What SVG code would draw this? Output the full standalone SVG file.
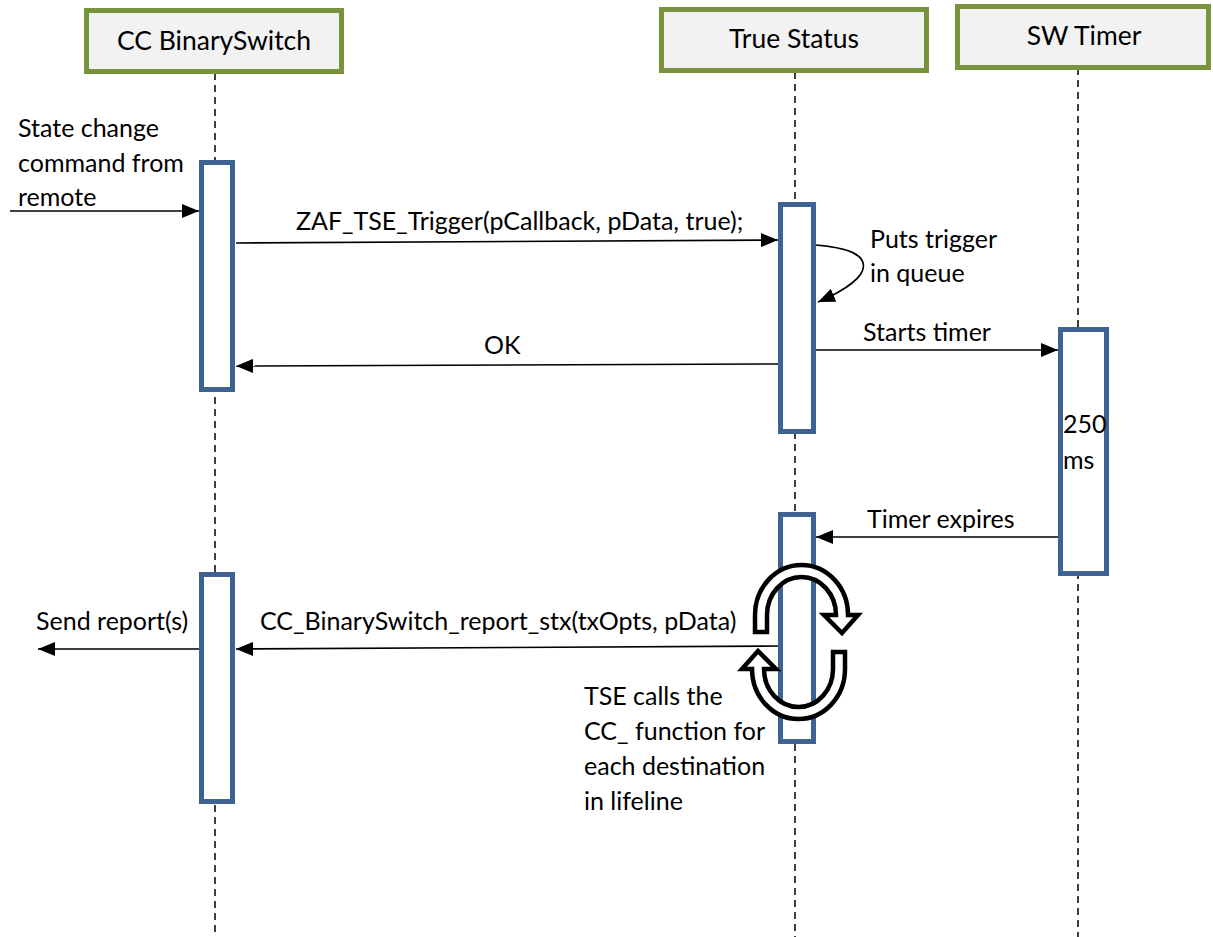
<svg xmlns="http://www.w3.org/2000/svg" width="1213" height="937" viewBox="0 0 1213 937">
  <defs>
    <style>
      .hdr { fill: #f2f2f2; stroke: #77933c; stroke-width: 5; }
      .life { stroke: #000; stroke-width: 1.5; stroke-dasharray: 7 5; fill: none; }
      .act { fill: #ffffff; stroke: #3e6392; stroke-width: 5; }
      .msg { stroke: #000; stroke-width: 1.6; fill: none; marker-end: url(#head); }
      .lbl { font-family: Lato, "Liberation Sans", sans-serif; font-size: 25px; fill: #000; }
      .htxt { font-family: Lato, "Liberation Sans", sans-serif; font-size: 26.5px; fill: #000; text-anchor: middle; }
      .loop { fill: #ffffff; stroke: #000; stroke-width: 4.5; stroke-linejoin: miter; }
    </style>
    <marker id="head" markerUnits="userSpaceOnUse" markerWidth="18" markerHeight="14" refX="17" refY="7" orient="auto">
      <path d="M0,0 L17,7 L0,14 Z" fill="#000"/>
    </marker>
    <!-- curved block arrow: arch with a left leg and a downward head on the right -->
    <path id="arch" d="M755,632 L755,615 A46.5,50 0 0 1 848,615 L858,615 L842,633 L824,615 L836,615 A34.5,38 0 0 0 767,615 L767,632 Z"/>
  </defs>

  <!-- lifelines -->
  <g id="lifelines">
    <line class="life" x1="215" y1="73" x2="215" y2="937"/>
    <line class="life" x1="795" y1="72" x2="795" y2="937"/>
    <line class="life" x1="1078" y1="68" x2="1078" y2="937"/>
  </g>

  <!-- participants -->
  <g id="cc-binaryswitch">
    <rect class="hdr" x="86.5" y="10.5" width="255" height="61"/>
    <text class="htxt" x="214" y="50">CC BinarySwitch</text>
  </g>
  <g id="true-status">
    <rect class="hdr" x="661.5" y="9.5" width="265" height="61"/>
    <text class="htxt" x="794" y="48">True Status</text>
  </g>
  <g id="sw-timer">
    <rect class="hdr" x="957.5" y="6.5" width="251" height="61"/>
    <text class="htxt" x="1084" y="45">SW Timer</text>
  </g>

  <!-- activation bars -->
  <g id="act-cc-1"><rect class="act" x="201.5" y="162.5" width="31" height="227"/></g>
  <g id="act-ts-1"><rect class="act" x="780.5" y="204.5" width="33" height="227"/></g>
  <g id="act-timer">
    <rect class="act" x="1060.5" y="329.5" width="46" height="244"/>
    <text class="lbl" x="1063" y="433">250</text>
    <text class="lbl" x="1063" y="469">ms</text>
  </g>
  <g id="act-ts-2"><rect class="act" x="780.5" y="514.5" width="33" height="227"/></g>
  <g id="act-cc-2"><rect class="act" x="201.5" y="574.5" width="31" height="227"/></g>

  <!-- messages -->
  <g id="connectors">
    <line class="msg" x1="10" y1="211" x2="199" y2="211"/>
    <line class="msg" x1="236" y1="243" x2="778" y2="240"/>
    <path class="msg" d="M816,245 C880,250 878,276 818,302"/>
    <line class="msg" x1="778" y1="364" x2="236" y2="366"/>
    <line class="msg" x1="816" y1="350" x2="1058" y2="350"/>
    <line class="msg" x1="1058" y1="537" x2="816" y2="537"/>
    <line class="msg" x1="778" y1="646" x2="236" y2="649"/>
    <line class="msg" x1="199" y1="649" x2="38" y2="649"/>
  </g>

  <!-- message labels -->
  <g id="labels">
    <text class="lbl" x="18" y="137">State change</text>
    <text class="lbl" x="18" y="172">command from</text>
    <text class="lbl" x="18" y="206">remote</text>
    <text class="lbl" x="296" y="230">ZAF_TSE_Trigger(pCallback, pData, true);</text>
    <text class="lbl" x="870" y="248">Puts trigger</text>
    <text class="lbl" x="870" y="282">in queue</text>
    <text class="lbl" x="484" y="354">OK</text>
    <text class="lbl" x="863" y="341">Starts timer</text>
    <text class="lbl" x="867" y="528">Timer expires</text>
    <text class="lbl" x="36" y="630">Send report(s)</text>
    <text class="lbl" x="260" y="630">CC_BinarySwitch_report_stx(txOpts, pData)</text>
    <text class="lbl" x="584" y="705">TSE calls the</text>
    <text class="lbl" x="584" y="740">CC_ function for</text>
    <text class="lbl" x="584" y="775">each destination</text>
    <text class="lbl" x="584" y="810">in lifeline</text>
  </g>

  <!-- loop symbol over the second True Status activation -->
  <g id="loop-symbol">
    <use href="#arch" class="loop"/>
    <use href="#arch" class="loop" transform="rotate(180 800 642)"/>
  </g>
</svg>
